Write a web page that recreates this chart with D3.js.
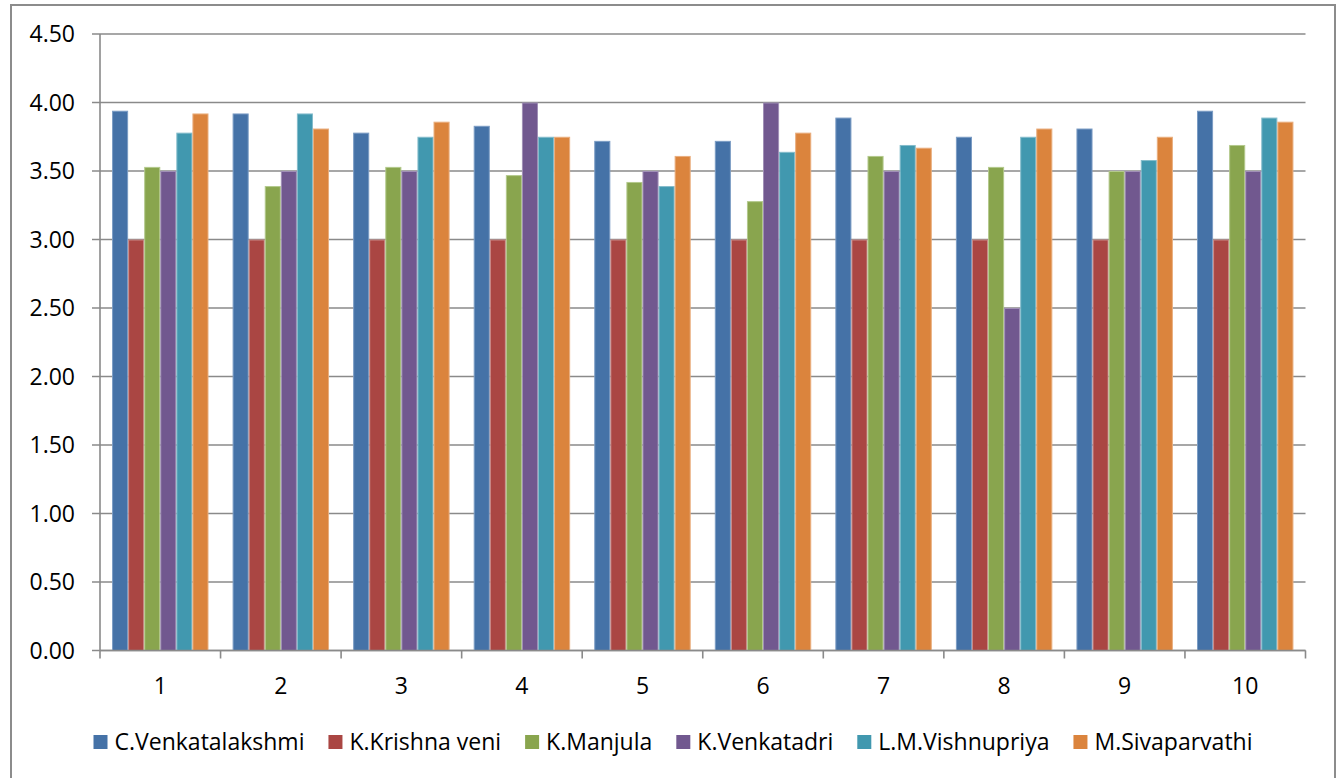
<!DOCTYPE html>
<html><head><meta charset="utf-8">
<script src="https://cdn.jsdelivr.net/npm/d3@7"></script>
<style>body{margin:0;background:#fff}svg{display:block}text{font-family:"Open Sans",Lato,sans-serif;fill:#000}</style>
</head><body>
<svg id="c" width="1340" height="778"></svg>
<script>
const categories = ["1","2","3","4","5","6","7","8","9","10"];
const seriesNames = ["C.Venkatalakshmi","K.Krishna veni","K.Manjula","K.Venkatadri","L.M.Vishnupriya","M.Sivaparvathi"];
const cVenkatalakshmi = [3.94,3.92,3.78,3.83,3.72,3.72,3.89,3.75,3.81,3.94];
const kKrishnaVeni   = [3.00,3.00,3.00,3.00,3.00,3.00,3.00,3.00,3.00,3.00];
const kManjula       = [3.53,3.39,3.53,3.47,3.42,3.28,3.61,3.53,3.50,3.69];
const kVenkatadri    = [3.50,3.50,3.50,4.00,3.50,4.00,3.50,2.50,3.50,3.50];
const lmVishnupriya  = [3.78,3.92,3.75,3.75,3.39,3.64,3.69,3.75,3.58,3.89];
const mSivaparvathi  = [3.92,3.81,3.86,3.75,3.61,3.78,3.67,3.81,3.75,3.86];
const yTicks = [0,0.5,1,1.5,2,2.5,3,3.5,4,4.5];
const colors = ["#4572A7","#AA4643","#89A54E","#71588F","#4198AF","#DB843D"];
const strokes = ["#7b9cc4","#c98a88","#b3c98c","#a08fb6","#84bccb","#e9ae7e"];

const seriesValues = [cVenkatalakshmi,kKrishnaVeni,kManjula,kVenkatadri,lmVishnupriya,mSivaparvathi];
const svg = d3.select("#c");
const pL = 100, pR = 1305.5, pT = 34, pB = 650.5;
const fs = "23px";

svg.append("rect").attr("x",11).attr("y",5).attr("width",1324).attr("height",790)
  .attr("fill","#fff").attr("stroke","#8c8c8c").attr("stroke-width",2);

const x0 = d3.scaleBand().domain(categories).range([pL,pR]).paddingInner(0).paddingOuter(0);
const barW = x0.bandwidth()/7.5;
const x1 = d3.scaleBand().domain(seriesNames).range([0.75*barW, x0.bandwidth()-0.75*barW]).padding(0);
const y = d3.scaleLinear().domain([0,4.5]).range([pB,pT]);

svg.append("g").selectAll("line").data(yTicks).join("line")
  .attr("x1",pL-8).attr("x2",pR).attr("y1",d=>y(d)).attr("y2",d=>y(d))
  .attr("stroke","#8a8a8a").attr("stroke-width",1.6);

const g = svg.append("g");
categories.forEach((c,i)=>{
  seriesValues.forEach((vals,s)=>{
    const xs = x0(c) + x1(seriesNames[s]);
    g.append("rect").attr("x",xs+0.5).attr("y",y(vals[i])+0.5)
      .attr("width",x1.bandwidth()-1).attr("height",pB-y(vals[i])-0.5)
      .attr("fill",colors[s]).attr("stroke",strokes[s]).attr("stroke-width",1);
  });
});

svg.append("line").attr("x1",pL).attr("x2",pL).attr("y1",pT).attr("y2",pB)
  .attr("stroke","#8a8a8a").attr("stroke-width",1.6);
svg.append("line").attr("x1",pL).attr("x2",pR).attr("y1",pB).attr("y2",pB)
  .attr("stroke","#8a8a8a").attr("stroke-width",1.6);
const xt = categories.map(c=>x0(c)).concat([pR]);
svg.append("g").selectAll("line").data(xt).join("line")
  .attr("x1",d=>d).attr("x2",d=>d).attr("y1",pB).attr("y2",pB+8)
  .attr("stroke","#8a8a8a").attr("stroke-width",1.6);

svg.append("g").selectAll("text").data(yTicks).join("text")
  .attr("x",75).attr("y",d=>y(d)).attr("dy","0.36em").attr("text-anchor","end")
  .style("font-size",fs).text(d=>d3.format(".2f")(d));

svg.append("g").selectAll("text").data(categories).join("text")
  .attr("x",d=>x0(d)+x0.bandwidth()/2).attr("y",686).attr("dy","0.36em").attr("text-anchor","middle")
  .style("font-size",fs).text(d=>d);

const lg = svg.append("g");
const items = seriesNames.map((n,i)=>{
  const t = lg.append("text").attr("y",742).attr("dy","0.36em").style("font-size",fs).text(n);
  return {t, w:t.node().getComputedTextLength(), i};
});
const sq = 14, gapSq = 7, gapItem = 24;
const total = d3.sum(items, d=>sq+gapSq+d.w) + gapItem*(items.length-1);
let cx = 673 - total/2;
items.forEach(d=>{
  lg.append("rect").attr("x",cx).attr("y",735).attr("width",sq).attr("height",14).attr("fill",colors[d.i]);
  d.t.attr("x",cx+sq+gapSq);
  cx += sq+gapSq+d.w+gapItem;
});
</script>
</body></html>
